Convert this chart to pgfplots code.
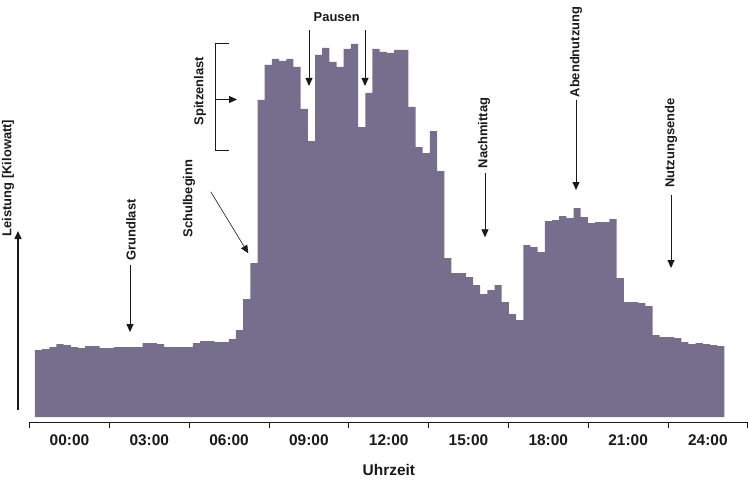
\documentclass[border=0pt]{standalone}
\usepackage{fontspec}
\setmainfont{Liberation Sans}
\usepackage{pgfplots}
\pgfplotsset{compat=1.18}
\usetikzlibrary{arrows.meta}

\definecolor{lastfarbe}{RGB}{118,110,141}
\definecolor{txt}{RGB}{25,25,25}

\newcommand{\anno}{\bfseries\fontsize{13}{15}\selectfont}
\newcommand{\achse}{\bfseries\fontsize{15.5}{17}\selectfont}

\tikzset{pf/.style={txt, line width=0.8bp, -{Triangle[width=7bp,length=8bp]}},
    txtnode/.style={font=\anno, text=txt}}

\begin{document}
\begin{tikzpicture}
\begin{axis}[
    scale only axis,
    width=718.6bp, height=395bp,
    xmin=-0.738, xmax=99.32,
    ymin=-5, ymax=390,
    axis y line=none,
    axis x line*=bottom,
    x axis line style={txt, line width=0.8bp},
    xtick={4.817,15.928,27.039,38.150,49.261,60.372,71.483,82.594,93.705},
    xticklabels={00:00,03:00,06:00,09:00,12:00,15:00,18:00,21:00,24:00},
    minor xtick={-0.738,10.373,21.484,32.595,43.706,54.817,65.928,77.039,88.150,99.261},
    major tick length=0pt,
    minor tick length=6bp,
    tick align=outside,
    minor tick style={txt, line width=0.8bp},
    xticklabel style={font=\achse, text=txt, anchor=center, yshift=-18bp},
    xlabel={Uhrzeit},
    xlabel style={font=\achse, text=txt, at={(rel axis cs:0.5,0)},
        anchor=center, yshift=-48bp},
    clip=false,
]
% Lastgang in Viertelstunden (Hoehe relativ)
\addplot[const plot, fill=lastfarbe, draw=none] coordinates {
    (0,67) (1,68) (2,70) (3,73) (4,72) (5,70) (6,69) (7,71)
    (8,71) (9,69) (10,69) (11,70) (12,70) (13,70) (14,70) (15,74)
    (16,74) (17,73) (18,70) (19,70) (20,70) (21,70) (22,74) (23,76)
    (24,76) (25,75) (26,75) (27,78) (28,87) (29,118) (30,154) (31,317)
    (32,352) (33,358) (34,356) (35,358) (36,350) (37,308) (38,276) (39,362)
    (40,369) (41,355) (42,350) (43,368) (44,373) (45,290) (46,324) (47,368)
    (48,365) (49,364) (50,367) (51,367) (52,310) (53,270) (54,264) (55,286)
    (56,246) (57,159) (58,144) (59,144) (60,140) (61,132) (62,123) (63,127)
    (64,132) (65,115) (66,103) (67,97) (68,172) (69,170) (70,165) (71,196)
    (72,197) (73,201) (74,199) (75,209) (76,200) (77,194) (78,195) (79,195)
    (80,198) (81,139) (82,115) (83,115) (84,114) (85,111) (86,82) (87,80)
    (88,80) (89,79) (90,75) (91,73) (92,74) (93,73) (94,72) (95,71)
    (96,71)
} \closedcycle;

% Bildrahmen (unsichtbar)
\path (axis cs:-4.859,-64) rectangle (axis cs:99.429,417);

% y-Achse als Pfeil
\draw[txt, line width=1.5bp, -{Triangle[width=7bp,length=8bp]}]
    (axis cs:-2.353,7) -- (axis cs:-2.353,186);
\node[txtnode, rotate=90, inner sep=0pt] at (axis cs:-3.745,239) {Leistung [Kilowatt]};

% Anmerkungen
\node[txtnode, rotate=90] at (axis cs:13.381,187) {Grundlast};
\draw[pf] (axis cs:13.242,152) -- (axis cs:13.242,85);

\node[txtnode, rotate=90] at (axis cs:21.456,218.5) {Schulbeginn};
\draw[pf, line width=0.6bp] (axis cs:24.478,225.3) -- (axis cs:29.713,163.7);

\node[txtnode, rotate=90] at (axis cs:22.988,326) {Spitzenlast};
\draw[txt, line width=0.8bp] (axis cs:27.068,373.7) -- (axis cs:25.146,373.7)
    -- (axis cs:25.146,266.5) -- (axis cs:27.068,266.5);
\draw[pf] (axis cs:25.146,317.5) -- (axis cs:28.140,317.5);

\node[txtnode] at (axis cs:42.022,400) {Pausen};
\draw[pf] (axis cs:38.165,387) -- (axis cs:38.165,331);
\draw[pf] (axis cs:45.962,387) -- (axis cs:45.962,331);

\node[txtnode, rotate=90] at (axis cs:62.531,284) {Nachmittag};
\draw[pf] (axis cs:62.671,244.3) -- (axis cs:62.671,179.7);

\node[txtnode, rotate=90] at (axis cs:75.341,365) {Abendnutzung};
\draw[pf] (axis cs:75.341,317) -- (axis cs:75.341,227);

\node[txtnode, rotate=90] at (axis cs:88.569,274) {Nutzungsende};
\draw[pf] (axis cs:88.569,222) -- (axis cs:88.569,149);
\end{axis}
\end{tikzpicture}
\end{document}
